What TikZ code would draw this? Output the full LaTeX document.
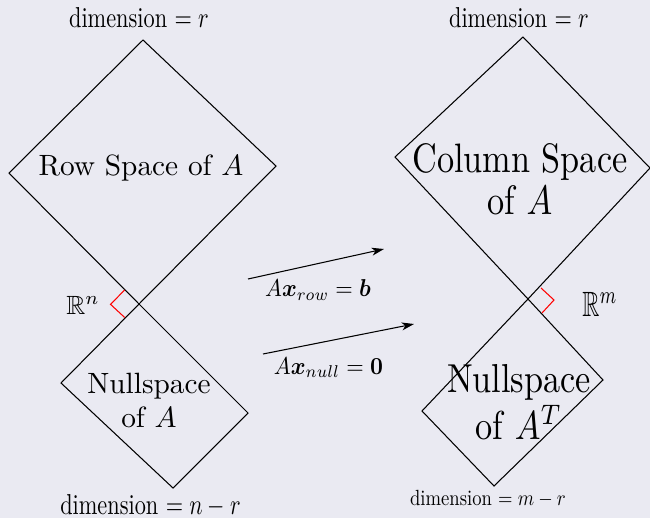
\documentclass[tikz,border=0pt]{standalone}
\usepackage{amsmath,amssymb,bm}
\usepackage{graphicx}
\usetikzlibrary{arrows.meta}
\definecolor{bgc}{HTML}{EAEAF2}
\begin{document}
\begin{tikzpicture}[x=0.02cm,y=-0.02cm,
  edge/.style={draw=black, line width=0.6pt, line join=miter},
  rightmark/.style={draw=red, line width=0.6pt},
  arr/.style={draw=black, line width=0.6pt, -{Stealth[length=7pt,width=4.5pt,inset=2pt]}},
  lbl/.style={anchor=base, inner sep=0pt, text=black, font=\fontsize{10}{12}\selectfont}]
\fill[bgc] (0,0) rectangle (650,518);
\useasboundingbox (0,0) rectangle (650,518);
% left: row space and nullspace
\coordinate (LT) at (143,40);
\coordinate (LR) at (276,166);
\coordinate (LX) at (139,304);
\coordinate (LL) at (9,173);
\coordinate (NL) at (61,383);
\coordinate (NB) at (173,488);
\coordinate (NR) at (248,413);
\draw[edge] (LT) -- (LR) -- (LX) -- (LL) -- cycle;
\draw[edge] (LX) -- (NL) -- (NB) -- (NR) -- cycle;
\coordinate (LMa) at (124.7,290);
\coordinate (LMc) at (110.5,304.3);
\coordinate (LMb) at (124.7,317.5);
\draw[rightmark] (LMa) -- (LMc) -- (LMb);
% right: column space and left nullspace
\coordinate (RT) at (523,37);
\coordinate (RR) at (650,168);
\coordinate (RX) at (528,299);
\coordinate (RL) at (395,157);
\coordinate (MR) at (603,380);
\coordinate (MB) at (494,486);
\coordinate (ML) at (422,411);
\draw[edge] (RT) -- (RR) -- (RX) -- (RL) -- cycle;
\draw[edge] (RX) -- (MR) -- (MB) -- (ML) -- cycle;
\coordinate (RMa) at (541,288);
\coordinate (RMc) at (554,300);
\coordinate (RMb) at (542,313);
\draw[rightmark] (RMa) -- (RMc) -- (RMb);
% arrows
\coordinate (A1s) at (248,279);
\coordinate (A1e) at (384,249);
\coordinate (A2s) at (263,354);
\coordinate (A2e) at (414,324);
\draw[arr] (A1s) -- (A1e);
\draw[arr] (A2s) -- (A2e);
% labels
\node[lbl] (dimRS) at (139,27.3) {\scalebox{1.27}[1.64]{dimension $= r$}};
\node[lbl] (dimCS) at (519,27.5) {\scalebox{1.27}[1.64]{dimension $= r$}};
\node[lbl] (dimNS) at (150.5,514) {\scalebox{1.27}[1.64]{dimension $= n - r$}};
\node[lbl] (dimLN) at (488,505) {\scalebox{1.06}[1.25]{dimension $= m - r$}};
\node[lbl] (RS) at (141,175.5) {\scalebox{1.67}{Row Space of $A$}};
\node[lbl, font=\fontsize{10}{11.9}\selectfont] (NS) at (149,393) {\scalebox{1.67}{\begin{tabular}[t]{@{}c@{}}Nullspace\\of $A$\end{tabular}}};
\node[lbl, font=\fontsize{10}{10.2}\selectfont] (CS) at (520,172.7) {\scalebox{1.95}[2.34]{\begin{tabular}[t]{@{}c@{}}Column Space\\of $A$\end{tabular}}};
\node[lbl, font=\fontsize{10}{10.4}\selectfont] (LN) at (519,392.7) {\scalebox{1.95}[2.3]{\begin{tabular}[t]{@{}c@{}}Nullspace\\of $A^T$\end{tabular}}};
\node[lbl] (Rn) at (83,314.3) {\scalebox{1.5}{$\mathbb{R}^n$}};
\node[lbl] (Rm) at (600,316) {\scalebox{1.35}[2.0]{$\mathbb{R}^m$}};
\node[lbl] (Lrow) at (318,296.7) {\scalebox{1.28}[1.39]{$A\boldsymbol{x}_{row} = \boldsymbol{b}$}};
\node[lbl] (Lnull) at (328.5,374) {\scalebox{1.28}[1.39]{$A\boldsymbol{x}_{null} = \mathbf{0}$}};
\end{tikzpicture}
\end{document}
